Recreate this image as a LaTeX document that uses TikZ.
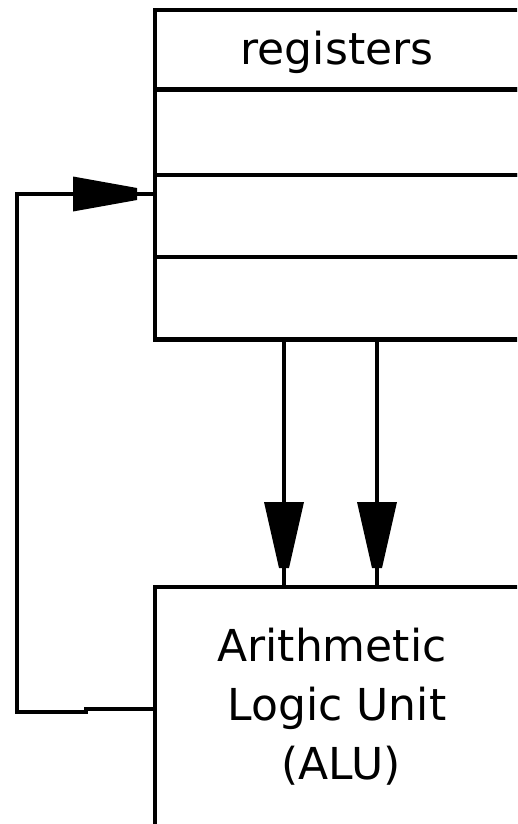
\documentclass[tikz,border=0pt]{standalone}
\usepackage{fontspec}
\setmainfont{DejaVu Sans}
\usetikzlibrary{decorations.markings}
\begin{document}
\begin{tikzpicture}[x=1pt,y=-1pt,
  line width=4.3pt,
  rowbox/.style={draw, line width=4.3pt, minimum width=405pt, outer sep=0pt, inner sep=0pt},
  lbl/.style={inner sep=0pt, outer sep=0pt, anchor=base, font=\fontsize{44}{58}\selectfont},
  downhead/.style={postaction={decorate, decoration={markings,
     mark=at position 162.5pt with {\fill (0,-20) -- (66,-5) -- (66,5) -- (0,20) -- cycle;}}}},
  righthead/.style={postaction={decorate, decoration={markings,
     mark=at position 715pt with {\fill (0,-17.5) -- (64,-6) -- (64,6) -- (0,17.5) -- cycle;}}}}
]
\useasboundingbox (0,0) rectangle (517,824);
\clip (0,0) rectangle (517,824);
\fill[white] (0,0) rectangle (517,824);
% registers block
\node[rowbox, minimum height=79.5pt] (r0) at (357.5,49.75) {};
\node[rowbox, minimum height=85.5pt] (r1) at (357.5,132.25) {};
\node[rowbox, minimum height=82pt]   (r2) at (357.5,216) {};
\node[rowbox, minimum height=82.5pt] (r3) at (357.5,298.25) {};
\node[lbl] (regtxt) at (337,65) {registers};
% ALU block
\node[rowbox, minimum height=300pt] (alu) at (357.5,737) {};
\node[lbl] (t1) at (332,661) {Arithmetic};
\node[lbl] (t2) at (337,720) {Logic Unit};
\node[lbl] (t3) at (341,779) {(ALU)};
% data paths registers -> ALU
\draw[downhead] (r3.south -| 284,0) -- (alu.north -| 284,0);
\draw[downhead] (r3.south -| 377,0) -- (alu.north -| 377,0);
% feedback ALU -> registers
\coordinate (j1) at (86,709);
\coordinate (j2) at (86,712);
\coordinate (c1) at (17,712);
\coordinate (c2) at (17,194);
\draw[righthead] (alu.west |- j1) -- (j1) -- (j2) -- (c1) -- (c2) -- (r2.west |- c2);
\end{tikzpicture}
\end{document}
